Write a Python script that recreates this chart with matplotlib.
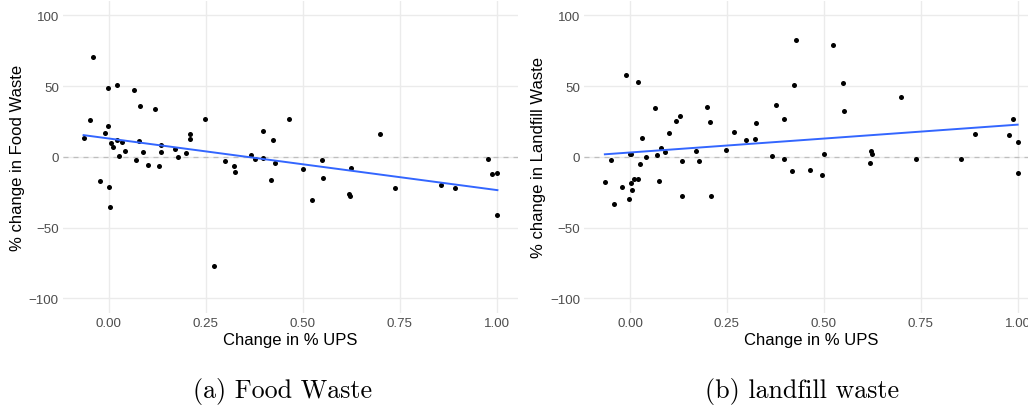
import numpy as np
import matplotlib
matplotlib.use("Agg")
import matplotlib.pyplot as plt

# Food waste panel: change in % UPS vs % change in food waste
food_ups = [-0.065, -0.049, -0.041, -0.022, -0.009, -0.003, -0.001, 0.001, 0.003,
            0.005, 0.012, 0.021, 0.022, 0.026, 0.033, 0.041, 0.066, 0.070, 0.077,
            0.080, 0.089, 0.102, 0.118, 0.130, 0.135, 0.135, 0.171, 0.179, 0.200,
            0.208, 0.210, 0.248, 0.270, 0.300, 0.323, 0.326, 0.367, 0.376, 0.396,
            0.398, 0.417, 0.424, 0.429, 0.465, 0.500, 0.524, 0.549, 0.551, 0.618,
            0.622, 0.623, 0.699, 0.737, 0.855, 0.891, 0.978, 0.987, 1.001, 1.001]
food_change = [13.1, 26.1, 70.7, -16.9, 17.1, 22.1, 48.6, -21.1, -35.4,
               9.9, 7.0, 50.5, 12.0, 0.9, 10.6, 4.2, 47.4, -2.3, 11.3,
               35.7, 3.3, -5.4, 33.8, -6.6, 8.2, 3.5, 5.4, 0.0, 2.6,
               12.7, 16.2, 26.8, -77.0, -2.8, -6.3, -10.3, 1.2, -1.6, -0.7,
               18.1, -16.0, 12.0, -4.5, 26.5, -8.7, -30.5, -2.1, -14.6, -26.5,
               -27.9, -8.0, 16.4, -21.8, -19.5, -21.8, -1.2, -12.0, -11.3, -41.3]

# Landfill waste panel
land_ups = [-0.065, -0.049, -0.041, -0.022, -0.010, -0.003, -0.001, 0.003, 0.003,
            0.005, 0.011, 0.021, 0.021, 0.026, 0.031, 0.040, 0.065, 0.070, 0.076,
            0.079, 0.089, 0.101, 0.119, 0.130, 0.134, 0.134, 0.170, 0.178, 0.199,
            0.207, 0.209, 0.247, 0.269, 0.300, 0.323, 0.326, 0.366, 0.376, 0.397,
            0.397, 0.417, 0.424, 0.429, 0.465, 0.495, 0.500, 0.524, 0.549, 0.551,
            0.618, 0.621, 0.623, 0.699, 0.737, 0.855, 0.891, 0.978, 0.987, 1.000,
            1.000]
land_change = [-17.6, -1.9, -33.6, -21.1, 58.0, -30.0, 2.3, 2.2, -18.3,
               -23.2, -15.3, -15.3, 53.1, -4.9, 13.4, -0.2, 34.5, 1.2, -17.1,
               6.3, 3.5, 16.9, 25.1, 28.6, -3.1, -27.5, 4.5, -2.8, 35.2,
               24.6, -27.7, 4.9, 17.6, 12.0, 12.4, 23.7, 0.9, 36.6, 26.5,
               -1.2, -10.1, 50.5, 82.9, -8.9, -13.1, 1.9, 78.9, 52.1, 32.2,
               -4.0, 4.5, 2.1, 42.7, -1.6, -1.6, 16.0, 15.3, 26.8, 10.8,
               -11.5]

x_ticks = [0.0, 0.25, 0.5, 0.75, 1.0]
x_tick_labels = ["0.00", "0.25", "0.50", "0.75", "1.00"]
y_ticks = [-100, -50, 0, 50, 100]

panels = [
    (food_ups, food_change, "% change in Food Waste", "(a) Food Waste"),
    (land_ups, land_change, "% change in Landfill Waste", "(b) landfill waste"),
]

W, H = 1028, 410
fig = plt.figure(figsize=(W / 100, H / 100), dpi=100)
plt.rcParams["font.family"] = ["Liberation Sans", "DejaVu Sans"]

# axes rectangles in pixels: left, top, right, bottom
rects = [(63, 2.3, 518, 313.6), (584.3, 2.3, 1038.6, 313.6)]
caption_x = [283, 802]

for (xs, ys, ylab, cap), (l, t, r, b), cx in zip(panels, rects, caption_x):
    ax = fig.add_axes([l / W, 1 - b / H, (r - l) / W, (b - t) / H])
    xs = np.asarray(xs)
    ys = np.asarray(ys)
    ax.set_xlim(-0.118, 1.054)
    ax.set_ylim(-110, 110)
    ax.set_xticks(x_ticks)
    ax.set_xticklabels(x_tick_labels)
    ax.set_yticks(y_ticks)
    ax.grid(True, color="#EBEBEB", linewidth=1.0)
    ax.set_axisbelow(True)
    for s in ax.spines.values():
        s.set_visible(False)
    ax.tick_params(length=0, labelsize=9.6, labelcolor="#4D4D4D", pad=3)
    ax.axhline(0, color="#BEBEBE", linestyle=(0, (4, 4)), linewidth=0.9, zorder=1)
    ax.scatter(xs, ys, s=13, color="black", linewidths=0, zorder=3)
    k, c = np.polyfit(xs, ys, 1)
    xl = np.array([xs.min(), xs.max()])
    ax.plot(xl, k * xl + c, color="#3366FF", linewidth=1.4, zorder=4)
    ax.set_xlabel("Change in % UPS", fontsize=12, labelpad=2)
    ax.set_ylabel(ylab, fontsize=12, labelpad=3)
    fig.text(cx / W, 1 - 392 / H, cap,
             family="cmr10", fontsize=18.7, ha="center", va="center")

fig.savefig("out.png", dpi=100)
